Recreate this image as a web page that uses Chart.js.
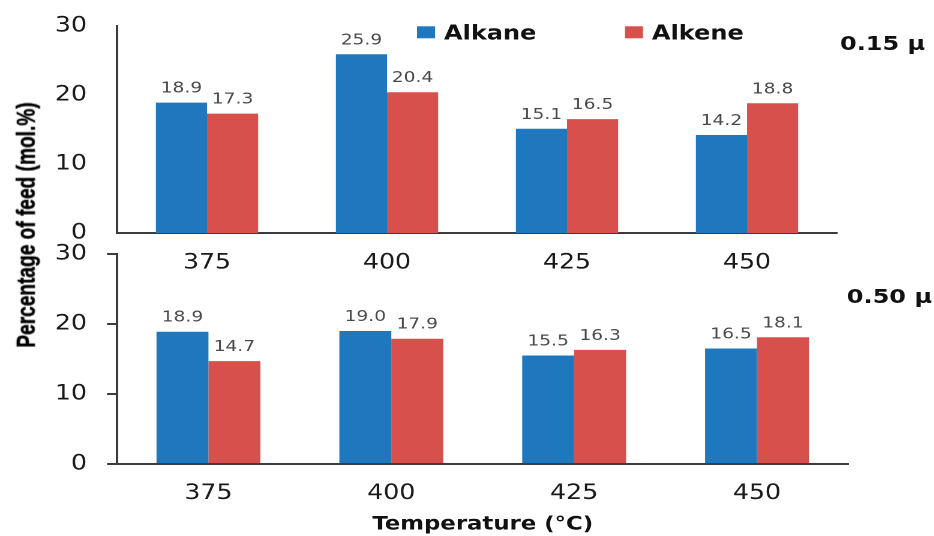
<!DOCTYPE html>
<html>
<head>
<meta charset="utf-8">
<script src="https://cdn.jsdelivr.net/npm/chart.js@4/dist/chart.umd.min.js"></script>
<style>
  html, body { margin: 0; padding: 0; background: #fff; }
  body { width: 934px; height: 536px; overflow: hidden; position: relative; }
  /* the whole figure is laid out on a 778px-wide stage and widened by 1.2 */
  #stage { position: absolute; left: 0; top: 0; width: 778px; height: 536px;
           transform: scaleX(1.2); transform-origin: 0 0; }
  #stage canvas { position: absolute; left: 0; }
  #top { top: 0; }
  #bottom { top: 240px; }
  .panel { position: absolute; font: bold 20px "DejaVu Sans"; line-height: 24px;
           color: #111; white-space: nowrap; }
  #ytitle { position: absolute; left: 21.7px; top: 225px; font: bold 22px "Liberation Sans";
            line-height: 24px; color: #000; white-space: nowrap; transform-origin: 50% 50%;
            -webkit-text-stroke: 0.4px #000; }
</style>
</head>
<body>
<div id="stage">
  <canvas id="top" width="778" height="283"></canvas>
  <canvas id="bottom" width="778" height="296"></canvas>
  <div class="panel" style="left:700px; top:31px">0.15 μ</div>
  <div class="panel" style="left:705.7px; top:284px">0.50 μ</div>
  <div id="ytitle">Percentage of feed (mol.%)</div>
</div>
<script>
// Reaction temperatures (°C)
const temperatures = ['375', '400', '425', '450'];
const seriesNames = ['Alkane', 'Alkene'];
const seriesColors = ['#1f78be', '#d8504b'];

// Product share, mol.% of feed — 0.15 μ catalyst
const alkane015 = [18.9, 25.9, 15.1, 14.2];
const alkene015 = [17.3, 20.4, 16.5, 18.8];

// Product share, mol.% of feed — 0.50 μ catalyst
const alkane050 = [18.9, 19.0, 15.5, 16.5];
const alkene050 = [14.7, 17.9, 16.3, 18.1];

const yTickValues = [0, 10, 20, 30];
const xTitle = 'Temperature (°C)';

// value printed above every bar
const valueLabels = {
  id: 'valueLabels',
  afterDatasetsDraw(chart) {
    const ctx = chart.ctx;
    ctx.save();
    ctx.font = '15.5px "DejaVu Sans"';
    ctx.fillStyle = '#4a4a4a';
    ctx.textAlign = 'center';
    ctx.textBaseline = 'alphabetic';
    chart.data.datasets.forEach((ds, i) => {
      chart.getDatasetMeta(i).data.forEach((bar, j) => {
        ctx.fillText(ds.data[j].toFixed(1), bar.x, bar.y - 10);
      });
    });
    ctx.restore();
  }
};

// swatch legend placed inside the upper plot
const swatchLegend = {
  id: 'swatchLegend',
  afterDraw(chart, args, opts) {
    if (!opts.show) return;
    const ctx = chart.ctx;
    ctx.save();
    ctx.font = 'bold 20px "DejaVu Sans"';
    ctx.textBaseline = 'alphabetic';
    chart.data.datasets.forEach((ds, i) => {
      const x = opts.x[i];
      ctx.fillStyle = ds.backgroundColor;
      ctx.fillRect(x, opts.y - 6, 15, 12);
      ctx.fillStyle = '#111';
      ctx.fillText(ds.label, x + 22.5, opts.y + 7.3);
    });
    ctx.restore();
  }
};

function buildChart(canvasId, alkane, alkene, cfg) {
  const axisColor = '#3c3c3c';
  return new Chart(document.getElementById(canvasId), {
    type: 'bar',
    data: {
      labels: temperatures,
      datasets: [
        { label: seriesNames[0], data: alkane, backgroundColor: seriesColors[0], borderWidth: 0 },
        { label: seriesNames[1], data: alkene, backgroundColor: seriesColors[1], borderWidth: 0 }
      ]
    },
    options: {
      responsive: false,
      devicePixelRatio: 2,
      animation: false,
      events: [],
      datasets: { bar: { categoryPercentage: 0.568, barPercentage: 1.0 } },
      layout: { padding: cfg.padding },
      plugins: {
        legend: { display: false },
        tooltip: { enabled: false },
        swatchLegend: { show: cfg.legend, x: [347.5, 520.8], y: 32.3 }
      },
      scales: {
        x: {
          grid: { display: false, drawTicks: false },
          border: { display: true, color: axisColor, width: 2 },
          ticks: { font: { family: 'DejaVu Sans', size: 21 }, color: '#1a1a1a', padding: cfg.xPad },
          title: cfg.xTitle
            ? { display: true, text: xTitle, color: '#111',
                font: { family: 'DejaVu Sans', size: 19, weight: 'bold' },
                padding: { top: 0, bottom: 0 } }
            : { display: false },
          afterFit: s => { s.height = cfg.xHeight; }
        },
        y: {
          min: 0, max: 30,
          afterBuildTicks: s => { s.ticks = yTickValues.map(v => ({ value: v })); },
          grid: cfg.yTicks
            ? { display: true, drawOnChartArea: false, drawTicks: true, tickLength: 8.33,
                color: axisColor, lineWidth: 2 }
            : { display: false, drawTicks: false },
          border: { display: true, color: axisColor, width: 2 },
          ticks: { font: { family: 'DejaVu Sans', size: 21 }, color: '#1a1a1a',
                   padding: cfg.yTicks ? 16.7 : 25 },
          // fixed axis width; the plot edges come from the layout padding alone
          afterFit: s => { s.width = 97.5; s.paddingTop = 0; s.paddingBottom = 0; }
        }
      }
    },
    plugins: [valueLabels, swatchLegend]
  });
}

buildChart('top', alkane015, alkene015, {
  padding: { left: 0, right: 80.5, top: 26, bottom: 0 },
  legend: true, xTitle: false, yTicks: false, xPad: 17.5, xHeight: 50
});

buildChart('bottom', alkane050, alkene050, {
  padding: { left: 0, right: 71, top: 14, bottom: 0 },
  legend: false, xTitle: true, yTicks: true, xPad: 17, xHeight: 72
});

// shared y-axis title, squeezed along its length to span both plots
const yt = document.getElementById('ytitle');
const k = 245 / yt.offsetWidth;
yt.style.transform = `translate(-50%, -50%) rotate(-90deg) scaleX(${k})`;
</script>
</body>
</html>
